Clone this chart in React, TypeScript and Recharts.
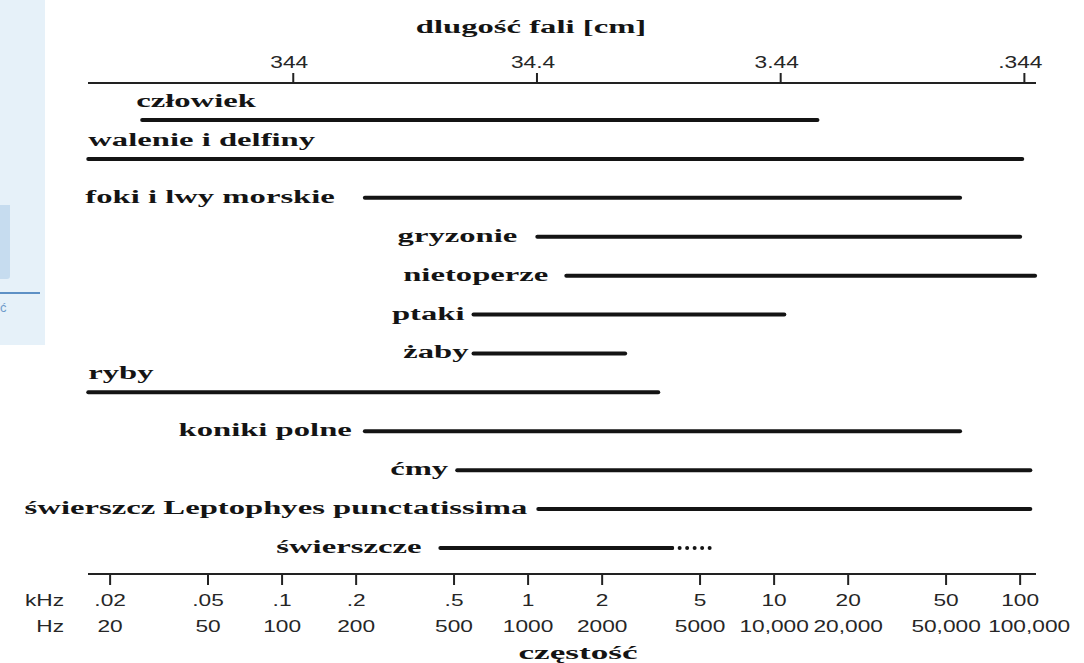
import React from 'react';
import { ScatterChart, Scatter, XAxis, YAxis } from 'recharts';

// ── data (frequencies in kHz) ────────────────────────────────────────────
const FREQ_TICKS = [0.02, 0.05, 0.1, 0.2, 0.5, 1, 2, 5, 10, 20, 50, 100];
const KHZ_LABELS = ['.02', '.05', '.1', '.2', '.5', '1', '2', '5', '10', '20', '50', '100'];
const HZ_LABELS = ['20', '50', '100', '200', '500', '1000', '2000', '5000', '10,000', '20,000', '50,000', '100,000'];

// wavelength axis: 344 cm at 100 Hz, etc.
const WAVE_TICKS = [0.1, 1, 10, 100];
const WAVE_LABELS = ['344', '34.4', '3.44', '.344'];

const SPECIES = [
  'człowiek',
  'walenie i delfiny',
  'foki i lwy morskie',
  'gryzonie',
  'nietoperze',
  'ptaki',
  'żaby',
  'ryby',
  'koniki polne',
  'ćmy',
  'świerszcz Leptophyes punctatissima',
  'świerszcze',
];
const LOW_KHZ = [0.027, 0.0163, 0.217, 1.09, 1.43, 0.6, 0.6, 0.0163, 0.217, 0.515, 1.1, 0.44];
const HIGH_KHZ = [15, 102, 57, 100, 115, 11, 2.48, 3.38, 57, 110, 110, 3.85];
// uncertain (dotted) extension of the last range
const DOTTED_FROM_KHZ = 3.85;
const DOTTED_TO_KHZ = 5.5;

// ── layout / style ───────────────────────────────────────────────────────
const W = 1084;
const H = 663;
const INK = '#141414';
const TICK_INK = '#262626';
const LABEL_ABOVE = new Set([0, 1, 7]);
const LABEL_GAP = [6, 0, 30, 20, 18, 9, 5, 0, 13, 9, 11, 19];
const SERIF = '"Liberation Serif", "Times New Roman", serif';
const SANS = '"Liberation Sans", Arial, sans-serif';
const SERIF_STRETCH = 1.72;
const SANS_STRETCH = 1.42;

const rows = SPECIES.map((name, i) => ({
  name,
  points: [
    { f: LOW_KHZ[i], row: i, first: true },
    { f: HIGH_KHZ[i], row: i, first: false },
  ],
}));
const dotted = [
  { f: DOTTED_FROM_KHZ, row: SPECIES.length - 1 },
  { f: DOTTED_TO_KHZ, row: SPECIES.length - 1 },
];

function StretchText({ x, y, text, anchor, font, size, stretch, weight, fill }: any) {
  return (
    <text
      transform={`translate(${x},${y}) scale(${stretch},1)`}
      textAnchor={anchor}
      fontFamily={font}
      fontSize={size}
      fontWeight={weight}
      fill={fill}
    >
      {text}
    </text>
  );
}

function BottomTick(props: any) {
  const { x, y, index } = props;
  const last = index === HZ_LABELS.length - 1;
  return (
    <g>
      {index === 0 && (
        <>
          <StretchText x={x - 46} y={y + 19} text="kHz" anchor="end" font={SANS} size={16} stretch={SANS_STRETCH} fill={TICK_INK} />
          <StretchText x={x - 46} y={y + 45} text="Hz" anchor="end" font={SANS} size={16} stretch={SANS_STRETCH} fill={TICK_INK} />
        </>
      )}
      <StretchText x={x} y={y + 19} text={KHZ_LABELS[index]} anchor="middle" font={SANS} size={16} stretch={SANS_STRETCH} fill={TICK_INK} />
      <StretchText x={last ? x + 9 : x} y={y + 45} text={HZ_LABELS[index]} anchor="middle" font={SANS} size={16} stretch={SANS_STRETCH} fill={TICK_INK} />
    </g>
  );
}

function TopTick(props: any) {
  const { x, y, index } = props;
  return (
    <StretchText x={x - 4} y={y - 3} text={WAVE_LABELS[index]} anchor="middle" font={SANS} size={16} stretch={SANS_STRETCH} fill={TICK_INK} />
  );
}

function rangeShape(i: number) {
  return (p: any) => {
    if (!p.payload?.first) return <g />;
    const above = LABEL_ABOVE.has(i);
    return (
      <StretchText
        x={p.cx - LABEL_GAP[i]}
        y={above ? p.cy - 13 : p.cy + 5}
        text={SPECIES[i]}
        anchor={above ? 'start' : 'end'}
        font={SERIF}
        size={19}
        stretch={SERIF_STRETCH}
        weight="bold"
        fill={INK}
      />
    );
  };
}

export default function App() {
  return (
    <div style={{ position: 'absolute', left: 0, top: 0, width: W, height: H, background: '#fff', overflow: 'hidden' }}>
      {/* pale slide panel at the left edge */}
      <div style={{ position: 'absolute', left: 0, top: 0, width: 45, height: 345, background: '#e6f1f9' }}>
        <div style={{ position: 'absolute', left: 0, top: 205, width: 10, height: 74, background: '#c6dcef', borderBottomRightRadius: 3 }} />
        <div style={{ position: 'absolute', left: 0, top: 292, width: 40, height: 2, background: '#5d90c5' }} />
        <div style={{ position: 'absolute', left: 0, top: 300, fontFamily: SANS, fontSize: 13, color: '#6f9ccb' }}>ć</div>
      </div>

      <div style={{ position: 'absolute', left: 0, top: 0 }}>
        <ScatterChart width={W} height={H} margin={{ top: 53, right: 48, bottom: 59, left: 88 }} style={{ overflow: 'visible' }}>
          <XAxis
            xAxisId="top"
            orientation="top"
            type="number"
            dataKey="f"
            scale="log"
            domain={[0.01438, 111.6]}
            allowDataOverflow
            ticks={WAVE_TICKS}
            interval={0}
            height={30}
            tickSize={10}
            tickMargin={2}
            axisLine={{ stroke: '#222', strokeWidth: 2 }}
            tickLine={{ stroke: '#222', strokeWidth: 2 }}
            tick={<TopTick />}
          />
          <XAxis
            xAxisId="bottom"
            orientation="bottom"
            type="number"
            dataKey="f"
            scale="log"
            domain={[0.01626, 116]}
            ticks={FREQ_TICKS}
            interval={0}
            height={30}
            tickSize={11}
            tickMargin={2}
            axisLine={{ stroke: '#222', strokeWidth: 2 }}
            tickLine={{ stroke: '#222', strokeWidth: 2 }}
            tick={<BottomTick />}
          />
          <YAxis type="number" dataKey="row" domain={[-0.951, 11.668]} reversed hide />
          {rows.map((r, i) => (
            <Scatter
              key={r.name}
              xAxisId="bottom"
              data={r.points}
              line={{ stroke: INK, strokeWidth: 4, strokeLinecap: 'round' }}
              shape={rangeShape(i)}
              isAnimationActive={false}
            />
          ))}
          <Scatter
            xAxisId="bottom"
            data={dotted}
            line={{ stroke: INK, strokeWidth: 4, strokeLinecap: 'round', strokeDasharray: '0 7.5' }}
            shape={() => <g />}
            isAnimationActive={false}
          />
        </ScatterChart>
      </div>

      <svg width={W} height={H} style={{ position: 'absolute', left: 0, top: 0, pointerEvents: 'none' }}>
        <StretchText x={531} y={33} text="dlugość fali [cm]" anchor="middle" font={SERIF} size={19} stretch={SERIF_STRETCH} weight="bold" fill={INK} />
        <StretchText x={578} y={659} text="częstość" anchor="middle" font={SERIF} size={19} stretch={1.85} weight="bold" fill={INK} />
      </svg>
    </div>
  );
}
